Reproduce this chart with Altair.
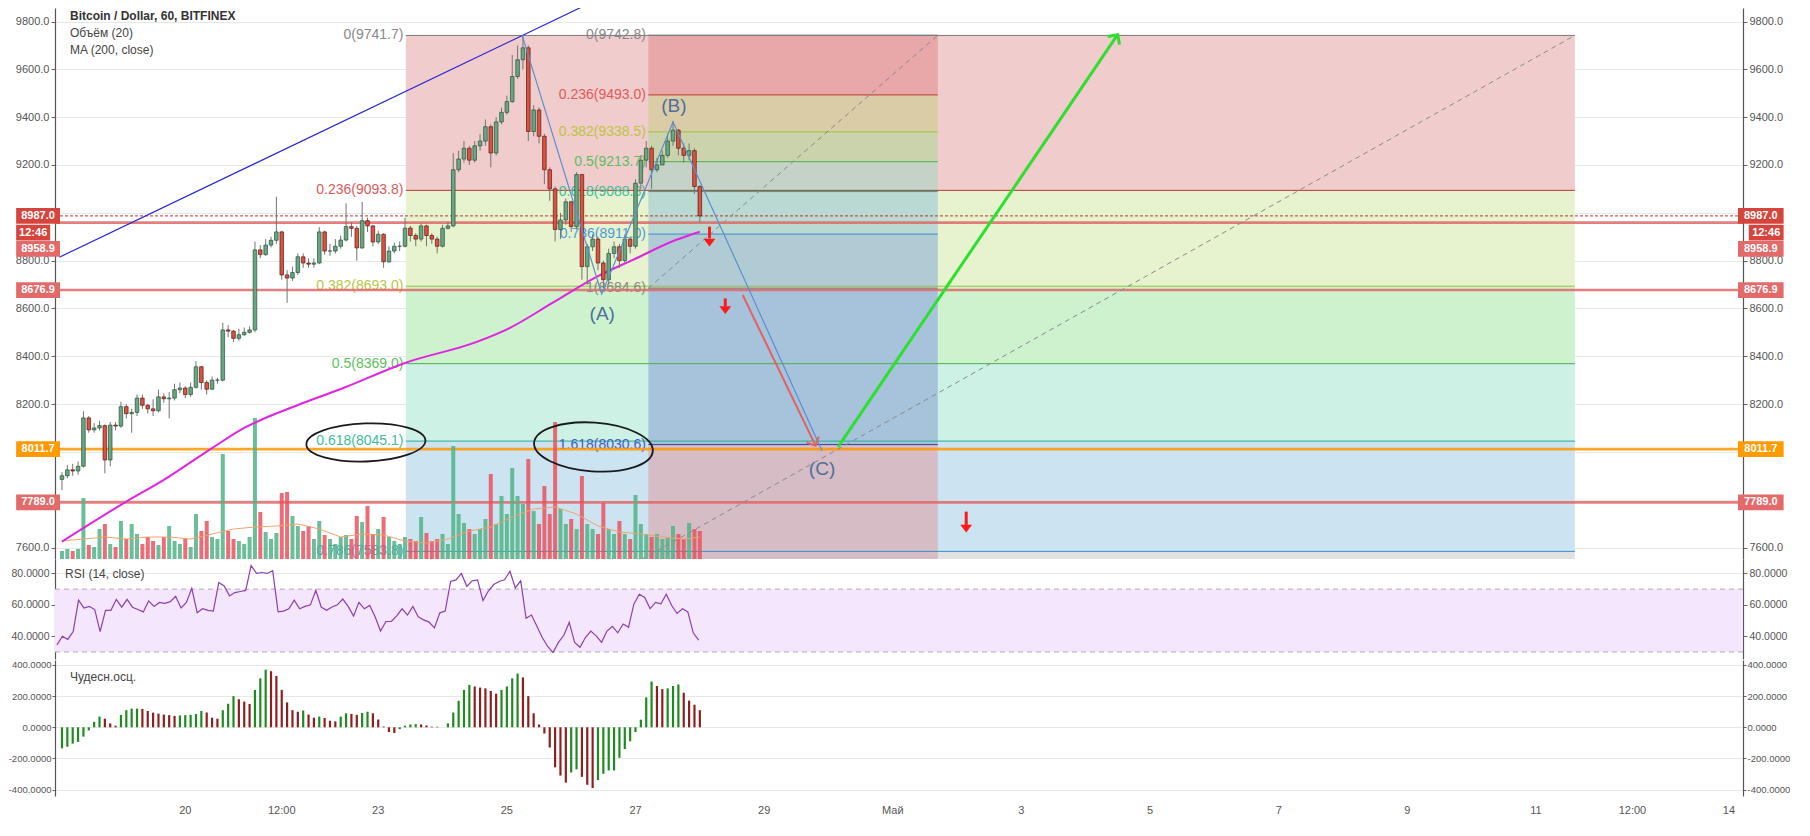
import altair as alt
import pandas as pd

FONT = "Liberation Sans"
W = 1688
H_MAIN, H_RSI, H_AO = 551, 100, 136
X_DOM = [-46.74, 579.38]          # hours since 20 Apr 00:00
PX_PER_H = W / (X_DOM[1] - X_DOM[0])
P_DOM = [7552.0, 9856.5]
RSI_DOM = [25.5, 89.2]
AO_DOM = [-441.0, 432.0]
VOL_DOM = [0, 551]
GRID = "#e8e8e8"
AXIS_ROOM = 52                     # pixels reserved for each vertical axis

# ---------------- data (2-hour candles) ----------------
hours = list(range(-46, 193, 2))
first_open = 7885.0
close = [7900, 7925, 7920, 7940, 8142, 8092, 8100, 8110, 7966, 8112, 8108, 8189, 8160, 8165, 8225, 8195, 8180, 8172, 8230, 8222, 8225, 8260, 8267,
         8240, 8270, 8356, 8290, 8262, 8300, 8300, 8510, 8505, 8475, 8490, 8500, 8510,
         8845, 8825, 8865, 8885, 8920, 8740, 8727, 8750, 8816, 8790, 8785, 8790, 8920, 8840, 8840, 8860, 8886, 8942, 8935, 8853,
         8967, 8945, 8878, 8910, 8795, 8840, 8860, 8860, 8936, 8905, 8890, 8945, 8905, 8890, 8860, 8935, 8945,
         9180, 9225, 9270, 9220, 9280, 9300, 9360, 9250, 9380, 9420, 9465, 9570, 9640, 9690, 9340, 9430, 9320, 9180, 9100, 8930,
         8970, 9046, 8942, 9160, 8775, 8858, 8890, 8790, 8720, 8830, 8858, 8800, 8890, 8860, 9124, 9220, 9270, 9180, 9200, 9240,
         9300, 9346, 9270, 9240, 9260, 9110, 8987]
high = [7915, 7945, 7950, 7960, 8170, 8150, 8120, 8130, 8115, 8125, 8125, 8210, 8200, 8180, 8240, 8240, 8200, 8220, 8260, 8245, 8250, 8285, 8290,
        8275, 8290, 8380, 8360, 8300, 8315, 8310, 8540, 8530, 8510, 8515, 8520, 8525,
        8880, 8865, 8890, 8900, 9067, 8925, 8760, 8775, 8830, 8830, 8810, 8810, 8940, 8925, 8870, 8890, 8905, 9040, 8960, 8945,
        9045, 8980, 8950, 8925, 8915, 8860, 8875, 8880, 8980, 8945, 8915, 8955, 8950, 8915, 8900, 8950, 8960,
        9250, 9260, 9300, 9280, 9300, 9330, 9390, 9370, 9400, 9440, 9490, 9660, 9700, 9742, 9700, 9450, 9440, 9330, 9190, 9110,
        9000, 9060, 9050, 9170, 9160, 8870, 8910, 8900, 8800, 8850, 8880, 8870, 8910, 8900, 9140, 9240, 9300, 9280, 9230, 9260,
        9330, 9384, 9350, 9290, 9290, 9270, 9115]
low = [7840, 7890, 7900, 7905, 7935, 8080, 8080, 8090, 7910, 7940, 8090, 8100, 8140, 8080, 8150, 8180, 8160, 8150, 8165, 8205, 8140, 8215, 8245,
       8225, 8230, 8265, 8260, 8240, 8270, 8285, 8295, 8480, 8460, 8465, 8485, 8495,
       8500, 8810, 8820, 8855, 8870, 8720, 8623, 8715, 8740, 8770, 8770, 8770, 8785, 8825, 8820, 8830, 8850, 8880, 8900, 8800,
       8850, 8920, 8860, 8870, 8770, 8790, 8830, 8840, 8855, 8880, 8860, 8880, 8860, 8870, 8830, 8855, 8930,
       8940, 9170, 9210, 9200, 9210, 9260, 9280, 9190, 9240, 9370, 9410, 9460, 9560, 9600, 9300, 9320, 9290, 9120, 9050, 8880,
       8890, 8950, 8920, 8930, 8720, 8700, 8840, 8760, 8685, 8700, 8810, 8770, 8790, 8830, 8850, 9100, 9190, 9100, 9170, 9200,
       9230, 9280, 9240, 9210, 9220, 9080, 8960]
volume = [8, 10, 8, 10, 61, 14, 12, 30, 35, 15, 12, 38, 20, 35, 25, 15, 22, 18, 14, 22, 33, 18, 15,
          20, 12, 45, 28, 38, 22, 20, 105, 28, 20, 18, 15, 22,
          141, 47, 27, 20, 26, 66, 67, 43, 33, 28, 33, 20, 38, 24, 20, 15, 22, 24, 20, 43,
          37, 53, 25, 30, 42, 22, 18, 15, 22, 20, 18, 42, 26, 18, 20, 25, 15,
          113, 45, 36, 30, 25, 30, 40, 85, 35, 63, 45, 91, 63, 55, 100, 48, 35, 73, 45, 137,
          50, 35, 40, 30, 83, 35, 30, 25, 56, 30, 25, 38, 25, 20, 64, 35, 25, 22, 25, 20,
          22, 33, 25, 20, 36, 30, 28]
rsi = [34.5, 40, 38, 43, 63, 58, 59, 57, 43, 56.5, 56.5, 63.5, 58.5, 63.5, 58.5, 57, 55.5, 62.5, 59, 61.5, 61, 62, 65.5,
       58, 61.5, 70.5, 55, 57.5, 56.5, 56, 74.3, 72, 65.7, 67.8, 68.5, 69.2,
       85, 80, 80.6, 80, 81.8, 55.5, 56, 57.5, 63, 57.5, 59, 60, 69.2, 58.6, 56.5, 58.6, 60, 63.7, 59, 52.9,
       61.6, 57.5, 59.6, 52.4, 43.3, 49.4, 49.4, 53, 57.5, 53.5, 59, 52.4, 50.4, 49, 45.3, 54.9, 56,
       74.9, 75.9, 80, 71.8, 75.3, 75.9, 62.7, 68.8, 72.9, 74.9, 76, 81.4, 70.8, 75.3, 51.4, 53.5, 46.3, 39.2, 33.5, 29.6,
       36.1, 40.6, 48.8, 36.1, 33, 39.2, 43.3, 40.2, 36.1, 43.3, 46.3, 42.2, 47.8, 45.7, 60.6, 66.7, 64.7, 57.5, 61.6, 60.6,
       66.7, 59.6, 54.5, 57.5, 55.5, 42.2, 37.5]
ao = [-135, -125, -105, -94, -60, -20, 35, 69, 55, 25, 10, 80, 110, 120, 120, 118, 105, 94, 88, 82, 78, 73, 76,
      78, 80, 85, 105, 95, 62, 55, 110, 151, 200, 180, 165, 150,
      240, 314, 370, 360, 330, 240, 160, 110, 100, 108, 82, 62, 69, 60, 42, 38, 69, 90, 86, 80,
      92, 100, 90, 50, 5, -30, -37, -12, 10, 18, 20, 18, 12, 4, 4, 0, 25,
      95, 170, 240, 272, 262, 255, 250, 233, 216, 240, 262, 314, 345, 320, 200, 90, 18, -40, -130, -257,
      -310, -355, -290, -270, -318, -369, -390, -339, -298, -277, -277, -196, -140, -90, -30, 49, 192, 294, 265, 245,
      250, 265, 275, 222, 171, 145, 110]

ma_hours = [-46, -22, -8, 10, 22, 42, 59, 82, 109, 121, 137, 154, 167, 183, 192]
ma_values = [7625, 7792, 7883, 8016, 8100, 8196, 8267, 8372, 8461, 8518, 8623, 8735, 8803, 8886, 8921]
vma_hours = [-46, -38, -30, -22, -14, -6, 2, 10, 18, 26, 34, 42, 50, 58, 66, 74, 82, 90, 98, 106, 114, 122, 130, 138, 146, 154, 162, 170, 178, 186, 192]
vma_values = [18, 20, 22, 20, 22, 22, 20, 25, 30, 32, 33, 35, 30, 22, 25, 24, 18, 16, 20, 28, 32, 42, 50, 52, 45, 33, 27, 25, 22, 20, 22]

tick_hours = [0, 36, 72, 120, 168, 216, 264, 312, 360, 408, 456, 504, 540, 576]
tick_labels = ["20", "12:00", "23", "25", "27", "29", "Май", "3", "5", "7", "9", "11", "12:00", "14"]
price_ticks = list(range(7600, 9801, 200))
hidden_price_labels = [7800, 8000, 9000]   # covered by the price tags

# Fibonacci retracements
fib1_span = [82.3, 518.5]
fib1_levels = ["0", "0.236", "0.382", "0.5", "0.618", "0.786", "1"]
fib1_prices = [9741.7, 9093.8, 8693.0, 8369.0, 8045.1, 7583.8, 6996.4]
fib1_line = ["#7a7a7a", "#b8382c", "#9cc23a", "#47b04b", "#27ad91", "#3b8fd0", "#7a7a7a"]
fib1_text = ["#888888", "#e05a5a", "#b9c63f", "#5cbf5c", "#3dbd9c", "#4a9ad8", "#888888"]
fib1_fill = ["#f3d3d3", "#eaf4d6", "#d5f3d5", "#d4f3e8", "#d3e7f3", "#e6e6e6"]

fib2_span = [172.8, 280.8]
fib2_levels = ["0", "0.236", "0.382", "0.5", "0.618", "0.786", "1", "1.618", "2.618"]
fib2_prices = [9742.8, 9493.0, 9338.5, 9213.7, 9088.8, 8911.0, 8684.6, 8030.6, 6972.4]
fib2_line = ["#7a7a7a", "#c0392b", "#9cc23a", "#47b04b", "#27ad91", "#3b8fd0", "#7a7a7a", "#2f3fa8", "#7a7a7a"]
fib2_text = ["#888888", "#e05a5a", "#b9c63f", "#5cbf5c", "#3dbd9c", "#4a9ad8", "#888888", "#4060c8", "#888888"]
fib2_fill = ["#ebb3b5", "#e0d3b4", "#d2d9b8", "#cdd8cf", "#c3ded8", "#bcd2da", "#b3cbe0", "#dbc5cd"]

# horizontal levels and price tags
hl_prices = [8958.9, 8676.9, 8011.7, 7789.0]
hl_colors = ["#e06767", "#e06767", "#ff9800", "#e06767"]
last_price = 8987.0
tag_text = ["8987.0", "12:46", "8958.9", "8676.9", "8011.7", "7789.0"]
tag_price = [8987.0, 8917.0, 8849.0, 8676.9, 8011.7, 7789.0]
tag_color = ["#d6453d", "#d6453d", "#e46a6a", "#e46a6a", "#ff9a00", "#e46a6a"]
tag_short = [False, True, False, False, False, False]

# drawings
trend_h = [-47.0, 153.4]
trend_p = [8814, 9890]
zig_h = [125.7, 155.4, 182.0, 237.6]
zig_p = [9741.7, 8660, 9380, 8005]
wave_text = ["(A)", "(B)", "(C)"]
wave_h = [155.6, 182.3, 237.6]
wave_p = [8576, 9446, 7929]
dash_id = ["d1", "d1", "d2", "d2"]
dash_h = [172.8, 280.8, 82.3, 518.5]
dash_p = [8684.6, 9742.8, 6996.4, 9741.7]
green_h = [243.6, 347.9]
green_p = [8021, 9745]
red_h = [208.0, 235.2]
red_p = [8656, 8026]
down_h = [195.6, 201.5, 291.4]
down_top = [8942, 8642, 7750]
down_neck = [8893, 8607, 7694]
down_head = [8876, 8594, 7680]
ell_h = [67.4, 152.3]
ell_p = [8039.4, 8020.6]

# ---------------- frames ----------------
opens = [first_open] + close[:-1]
df = pd.DataFrame({"h": hours, "o": opens, "c": close, "hi": high, "lo": low,
                   "vol": volume, "rsi": rsi, "ao": ao})
df["hi"] = df[["hi", "o", "c"]].max(axis=1)
df["lo"] = df[["lo", "o", "c"]].min(axis=1)
up = df["c"] >= df["o"]
df["body"] = up.map({True: "#6ba583", False: "#d75442"})
df["border"] = up.map({True: "#225437", False: "#5b1a13"})
df["vcol"] = up.map({True: "#52b386", False: "#e8545f"})
prev = df["ao"].shift(1).fillna(df["ao"].iloc[0] - 1)
df["aocol"] = (df["ao"] >= prev).map({True: "#1f8a1f", False: "#8e1f1f"})
df["z"] = 0


def alpha_col(hexc, a=0.86):
    r, g, b = (int(hexc[i:i + 2], 16) for i in (1, 3, 5))
    f = lambda v: max(0, min(255, round((v - (1 - a) * 255) / a)))
    return "#%02x%02x%02x" % (f(r), f(g), f(b))


def fib_frames(span, levels, prices, lines, texts, fills):
    fill_rows, line_rows, lab_rows = [], [], []
    for i in range(len(fills)):
        fill_rows.append({"h1": span[0], "h2": span[1], "p1": prices[i], "p2": prices[i + 1], "fill": alpha_col(fills[i])})
    for lv, p, lc, tc in zip(levels, prices, lines, texts):
        if P_DOM[0] < p < P_DOM[1]:
            line_rows.append({"h1": span[0], "h2": span[1], "p": p, "col": lc})
            lab_rows.append({"h": span[0] - 0.9, "p": p, "col": tc, "t": f"{lv}({p:.1f})"})
    return pd.DataFrame(fill_rows), pd.DataFrame(line_rows), pd.DataFrame(lab_rows)


f1_fill, f1_line, f1_lab = fib_frames(fib1_span, fib1_levels, fib1_prices, fib1_line, fib1_text, fib1_fill)
f2_fill, f2_line, f2_lab = fib_frames(fib2_span, fib2_levels, fib2_prices, fib2_line, fib2_text, fib2_fill)
fill_df = pd.concat([f1_fill, f2_fill], ignore_index=True)
fline_df = pd.concat([f1_line, f2_line], ignore_index=True)
flab_df = pd.concat([f1_lab, f2_lab], ignore_index=True)

L_LEFT, L_RIGHT = -63.1, 596.4
tag_rows = []
for t, p, c, s in zip(tag_text, tag_price, tag_color, tag_short):
    tag_rows.append({"t": t, "p": p, "col": c, "h1": L_LEFT, "h2": -50.4 if s else X_DOM[0]})
    tag_rows.append({"t": t, "p": p, "col": c, "h1": 583.4 if s else X_DOM[1], "h2": L_RIGHT})
tag_df = pd.DataFrame(tag_rows)
tag_df["p1"] = tag_df["p"] - 33
tag_df["p2"] = tag_df["p"] + 33
tag_df["hm"] = (tag_df["h1"] + tag_df["h2"]) / 2

# invisible anchors fixing the room taken by the two vertical axes
anchor_df = pd.DataFrame({"h": [X_DOM[0] - AXIS_ROOM / PX_PER_H, X_DOM[1] + AXIS_ROOM / PX_PER_H],
                          "p": [9000, 9000], "p2": [9010, 9010]})

# ---------------- scales / axes ----------------
xs = alt.Scale(domain=X_DOM, nice=False, zero=False)
ps = alt.Scale(domain=P_DOM, nice=False, zero=False)
rs = alt.Scale(domain=RSI_DOM, nice=False, zero=False)
aos = alt.Scale(domain=AO_DOM, nice=False, zero=False)
vs = alt.Scale(domain=VOL_DOM, nice=False)


def X(f, axis=None):
    return alt.X(f, type="quantitative", scale=xs, axis=axis)


def P(f, axis=None):
    return alt.Y(f, type="quantitative", scale=ps, axis=axis)


def yaxis(orient, values, fmt, size=11, grid=True, expr=None, tick=4, pad=2):
    kw = dict(orient=orient, values=values, format=fmt, grid=grid, gridColor=GRID,
              tickSize=tick, tickColor="#666", labelPadding=pad, labelFontSize=size, labelFont=FONT,
              labelColor="#555", domainColor="#555", domainWidth=1.2, title=None,
              labelOverlap=False, labelFlush=False)
    if expr:
        kw["labelExpr"] = expr
    return alt.Axis(**kw)


def txt(**kw):
    return dict(font=FONT, **kw)


price_expr = ("(" + " || ".join(f"datum.value == {v}" for v in hidden_price_labels)
              + ") ? '' : format(datum.value, '.1f')")
dec4_expr = "(datum.value < 0 ? '-' : '') + format(abs(datum.value), '.4f')"

sep_axis = alt.Axis(values=tick_hours, grid=True, gridColor=GRID, labels=False, ticks=False,
                    domain=True, domainColor="#4a4a4a", domainWidth=1.6, title=None)
bottom_axis = alt.Axis(values=tick_hours, grid=True, gridColor=GRID, labels=False,
                       tickSize=4, tickColor="#666", domainColor="#4a4a4a", domainWidth=1.6,
                       title=None)

# ---------------- main panel ----------------
fills = alt.Chart(fill_df).mark_rect(clip=True).encode(
    x=X("h1", sep_axis), x2="h2", y=P("p1", yaxis("left", price_ticks, ".1f", expr=price_expr)), y2="p2",
    color=alt.Color("fill:N", scale=None))
flines = alt.Chart(fline_df).mark_rule(strokeWidth=1).encode(
    x=X("h1"), x2="h2", y=P("p"), color=alt.Color("col:N", scale=None))
flabels = alt.Chart(flab_df).mark_text(**txt(align="right", baseline="middle", fontSize=14)).encode(
    x=X("h"), y=P("p"), text="t:N", color=alt.Color("col:N", scale=None))

hl_df = pd.DataFrame({"p": hl_prices, "col": hl_colors})
hlines = alt.Chart(hl_df).mark_rule(strokeWidth=2.6, opacity=0.85).encode(
    y=P("p"), color=alt.Color("col:N", scale=None))
lastline = alt.Chart(pd.DataFrame({"p": [last_price]})).mark_rule(
    strokeWidth=1, strokeDash=[3, 2], color="#b8382c").encode(y=P("p"))

vol = alt.Chart(df).mark_bar(size=4, opacity=0.85).encode(
    x=X("h"), y=alt.Y("vol", scale=vs, axis=None), y2="z", color=alt.Color("vcol:N", scale=None))
vma = alt.Chart(pd.DataFrame({"h": vma_hours, "v": vma_values})).mark_line(
    color="#f0a46c", strokeWidth=1).encode(x=X("h"), y=alt.Y("v", scale=vs, axis=None))

dash_df = pd.DataFrame({"id": dash_id, "h": dash_h, "p": dash_p})
dashed = alt.Chart(dash_df).mark_line(clip=True, color="#8a8a8a", strokeDash=[5, 4], strokeWidth=1).encode(
    x=X("h"), y=P("p"), detail="id:N")
trend = alt.Chart(pd.DataFrame({"h": trend_h, "p": trend_p})).mark_line(
    clip=True, color="#2b2bd6", strokeWidth=1.2).encode(x=X("h"), y=P("p"))
ma = alt.Chart(pd.DataFrame({"h": ma_hours, "p": ma_values})).mark_line(
    color="#e024e0", strokeWidth=2, interpolate="monotone").encode(x=X("h"), y=P("p"))

wicks = alt.Chart(df).mark_rule(color="#737375", strokeWidth=1).encode(
    x=X("h"), y=P("lo", yaxis("right", price_ticks, ".1f", grid=False, expr=price_expr)), y2="hi")
bodies = alt.Chart(df).mark_bar(size=3.6, strokeWidth=0.7).encode(
    x=X("h"), y=P("o"), y2="c", color=alt.Color("body:N", scale=None),
    stroke=alt.Stroke("border:N", scale=None))

zig = alt.Chart(pd.DataFrame({"h": zig_h, "p": zig_p})).mark_line(
    color="#5b8fd0", strokeWidth=1.2).encode(x=X("h"), y=P("p"))
waves = alt.Chart(pd.DataFrame({"t": wave_text, "h": wave_h, "p": wave_p})).mark_text(
    **txt(fontSize=19, color="#4d6f9c", baseline="middle")).encode(x=X("h"), y=P("p"), text="t:N")

green = alt.Chart(pd.DataFrame({"h": green_h, "p": green_p})).mark_line(
    color="#2fdf2f", strokeWidth=3).encode(x=X("h"), y=P("p"))
green_head = alt.Chart(pd.DataFrame({"h": green_h[1:], "p": green_p[1:]})).mark_point(
    shape="M -0.7 0.7 L 0 0 L 0.7 0.7", filled=False, color="#2fdf2f", strokeWidth=3,
    size=420, angle=34, opacity=1).encode(x=X("h"), y=P("p"))
red = alt.Chart(pd.DataFrame({"h": red_h, "p": red_p})).mark_line(
    color="#e26262", strokeWidth=2).encode(x=X("h"), y=P("p"))
red_head = alt.Chart(pd.DataFrame({"h": red_h[1:], "p": red_p[1:]})).mark_point(
    shape="M -0.7 0.7 L 0 0 L 0.7 0.7", filled=False, color="#e26262", strokeWidth=2,
    size=380, angle=154, opacity=1).encode(x=X("h"), y=P("p"))

down_df = pd.DataFrame({"h": down_h, "top": down_top, "neck": down_neck, "head": down_head})
down_shaft = alt.Chart(down_df).mark_rule(color="#ff1a1a", strokeWidth=3).encode(
    x=X("h"), y=P("top"), y2="neck")
down_tip = alt.Chart(down_df).mark_point(
    shape="M -0.8 -0.5 L 0.8 -0.5 L 0 0.55 Z", filled=True, color="#ff1a1a", size=220, opacity=1
).encode(x=X("h"), y=P("head"))

ell1 = alt.Chart(pd.DataFrame({"h": ell_h[:1], "p": ell_p[:1]})).mark_point(
    shape="M -1 0 A 1 0.32 0 1 1 1 0 A 1 0.32 0 1 1 -1 0 Z", filled=False, color="#1a1a1a",
    strokeWidth=1.8, size=14200, angle=358, opacity=1).encode(x=X("h"), y=P("p"))
ell2 = alt.Chart(pd.DataFrame({"h": ell_h[1:], "p": ell_p[1:]})).mark_point(
    shape="M -1 0 A 1 0.41 0 1 1 1 0 A 1 0.41 0 1 1 -1 0 Z", filled=False, color="#1a1a1a",
    strokeWidth=1.8, size=14161, angle=4, opacity=1).encode(x=X("h"), y=P("p"))

legend_df = pd.DataFrame({"t": ["Bitcoin / Dollar, 60, BITFINEX", "Объём (20)", "MA (200, close)"],
                          "h": [-43, -43, -43], "p": [9821, 9750, 9679]})
legend_title = alt.Chart(legend_df.iloc[:1]).mark_text(
    **txt(align="left", baseline="middle", fontSize=12, fontWeight="bold", color="#333")).encode(
    x=X("h"), y=P("p"), text="t:N")
legend_rest = alt.Chart(legend_df.iloc[1:]).mark_text(
    **txt(align="left", baseline="middle", fontSize=12, color="#444")).encode(
    x=X("h"), y=P("p"), text="t:N")

tag_rects = alt.Chart(tag_df).mark_rect().encode(
    x=X("h1"), x2="h2", y=P("p1"), y2="p2", color=alt.Color("col:N", scale=None))
tag_texts = alt.Chart(tag_df).mark_text(
    **txt(color="white", fontWeight="bold", fontSize=11, baseline="middle")).encode(
    x=X("hm"), y=P("p"), text="t:N")
anchors = alt.Chart(anchor_df).mark_rule(opacity=0).encode(x=X("h"), y=P("p"), y2="p2")

main = alt.layer(
    fills, flines, flabels, hlines, lastline, vol, vma, dashed, trend, ma,
    wicks, bodies, zig, waves, green, green_head, red, red_head, down_shaft, down_tip,
    ell1, ell2, legend_title, legend_rest, tag_rects, tag_texts, anchors
).resolve_scale(y="independent").properties(width=W, height=H_MAIN)

# ---------------- RSI panel ----------------
band = alt.Chart(pd.DataFrame({"lo": [30], "hi": [70]})).mark_rect(color="#f3e6fd").encode(
    y=alt.Y("lo", scale=rs, axis=yaxis("left", [40, 60, 80], ".4f", size=10.5)), y2="hi")
bounds = alt.Chart(pd.DataFrame({"v": [30, 70]})).mark_rule(
    color="#b7a6c0", strokeDash=[5, 4], strokeWidth=1).encode(y=alt.Y("v", scale=rs, axis=None))
rsi_line = alt.Chart(df).mark_line(color="#8e3fae", strokeWidth=1.2).encode(
    x=X("h", sep_axis), y=alt.Y("rsi", scale=rs, axis=yaxis("right", [40, 60, 80], ".4f", size=10.5, grid=False)))
rsi_title = alt.Chart(pd.DataFrame({"t": ["RSI (14, close)"], "h": [-43], "v": [79.6]})).mark_text(
    **txt(align="left", baseline="middle", fontSize=12, color="#444")).encode(
    x=X("h"), y=alt.Y("v", scale=rs, axis=None), text="t:N")
rsi_chart = alt.layer(band, bounds, rsi_line, rsi_title).resolve_scale(y="independent").properties(
    width=W, height=H_RSI)

# ---------------- oscillator panel ----------------
ao_ticks = [-400, -200, 0, 200, 400]
ao_bars = alt.Chart(df).mark_bar(size=2.2).encode(
    x=X("h", bottom_axis),
    y=alt.Y("ao", scale=aos, axis=yaxis("left", ao_ticks, ".4f", size=9.5, expr=dec4_expr, tick=3, pad=1)),
    y2="z", color=alt.Color("aocol:N", scale=None))
ao_title = alt.Chart(pd.DataFrame({"t": ["Чудесн.осц."], "h": [-43], "v": [320]})).mark_text(
    **txt(align="left", baseline="middle", fontSize=12, color="#444")).encode(
    x=X("h"),
    y=alt.Y("v", scale=aos, axis=yaxis("right", ao_ticks, ".4f", size=9.5, grid=False, expr=dec4_expr, tick=3, pad=1)),
    text="t:N")
# time labels under the last panel (placed just below its bottom edge)
xlab_df = pd.DataFrame({"h": tick_hours, "t": tick_labels, "v": [AO_DOM[0] - 58] * len(tick_hours)})
xlabels = alt.Chart(xlab_df).mark_text(
    **txt(fontSize=11, color="#555", baseline="top")).encode(
    x=X("h"), y=alt.Y("v", scale=aos, axis=None), text="t:N")
ao_chart = alt.layer(ao_bars, ao_title, xlabels).resolve_scale(y="independent").properties(width=W, height=H_AO)

chart = alt.vconcat(main, rsi_chart, ao_chart, spacing=0).properties(
    padding={"left": 0, "top": 0, "right": 0, "bottom": 0}
).configure(font=FONT).configure_view(stroke=None)

chart.save("out.html", embed_options={"renderer": "svg", "actions": False})
